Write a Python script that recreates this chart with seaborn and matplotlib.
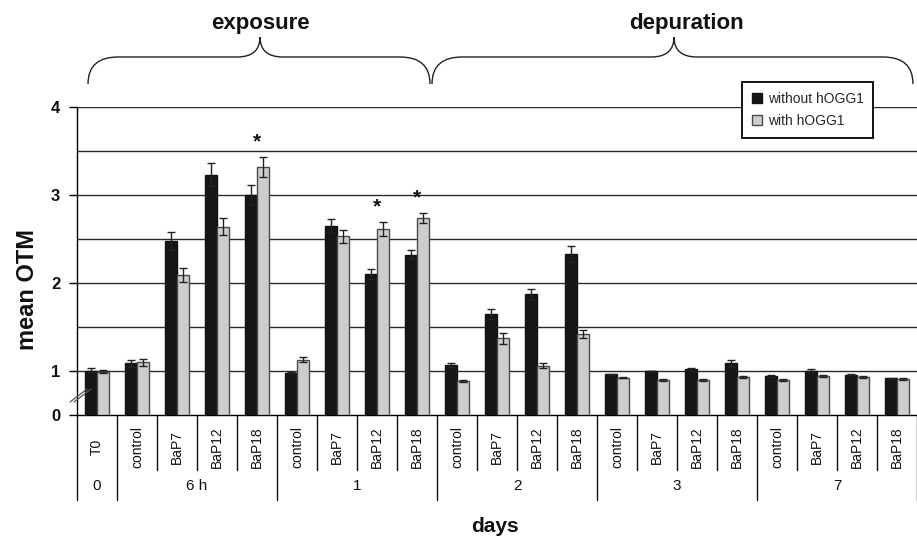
import numpy as np
import pandas as pd
import seaborn as sns
import matplotlib
matplotlib.use("Agg")
import matplotlib.pyplot as plt
from matplotlib.path import Path
from matplotlib.patches import PathPatch, Patch
from matplotlib.lines import Line2D
from matplotlib.transforms import Affine2D
from matplotlib.ticker import NullLocator

# ---------------- data ----------------
categories = ["T0",
              "control", "BaP7", "BaP12", "BaP18",
              "control", "BaP7", "BaP12", "BaP18",
              "control", "BaP7", "BaP12", "BaP18",
              "control", "BaP7", "BaP12", "BaP18",
              "control", "BaP7", "BaP12", "BaP18"]
times = ["0"] + ["6 h"] * 4 + ["1"] * 4 + ["2"] * 4 + ["3"] * 4 + ["7"] * 4
series_names = ["without hOGG1", "with hOGG1"]
without_vals = [1.00, 1.09, 2.48, 3.23, 3.00, 0.96, 2.65, 2.10, 2.32,
                1.07, 1.65, 1.87, 2.33, 0.93, 1.00, 1.02, 1.09,
                0.88, 1.00, 0.92, 0.83]
with_vals = [0.98, 1.10, 2.09, 2.64, 3.32, 1.13, 2.53, 2.61, 2.74,
             0.78, 1.37, 1.06, 1.42, 0.85, 0.80, 0.80, 0.87,
             0.80, 0.89, 0.86, 0.82]
without_err = [0.03, 0.04, 0.10, 0.13, 0.11, 0.01, 0.08, 0.06, 0.05,
               0.02, 0.06, 0.06, 0.09, 0.01, 0.00, 0.01, 0.03,
               0.02, 0.02, 0.01, 0.02]
with_err = [0.03, 0.04, 0.08, 0.10, 0.11, 0.03, 0.07, 0.08, 0.06,
            0.02, 0.06, 0.03, 0.05, 0.01, 0.02, 0.02, 0.02,
            0.02, 0.02, 0.02, 0.02]
star_groups = [4, 7, 8]
y_ticks = [0, 1, 2, 3, 4]
grid_levels = [1, 1.5, 2, 2.5, 3, 3.5, 4]
phases = ["exposure", "depuration"]

keys = [f"{t}|{c}|{i}" for i, (t, c) in enumerate(zip(times, categories))]
df = pd.DataFrame({
    "key": keys * 2,
    "series": [series_names[0]] * len(keys) + [series_names[1]] * len(keys),
    "value": without_vals + with_vals,
})

# ---------------- figure ----------------
W, H = 917, 537
sns.set_theme(style="white")
plt.rcParams["font.family"] = ["Liberation Sans", "DejaVu Sans"]
fig = plt.figure(figsize=(W / 100, H / 100), dpi=100)
ax = fig.add_axes([77 / W, 1 - 415 / H, 840 / W, 308 / H])

BLACK = "#161616"
GRAY = "#cdcdcd"
sns.barplot(data=df, x="key", y="value", hue="series", order=keys,
            hue_order=series_names, palette=[BLACK, GRAY], width=0.6,
            gap=0, errorbar=None, ax=ax, linewidth=1, saturation=1,
            zorder=3)
edge_cols = ["#111111", "#4a4a4a"]
for cont, ec in zip(ax.containers, edge_cols):
    for p in cont:
        p.set_edgecolor(ec)
        p.set_linewidth(1.0)
        p.set_zorder(3)

# error bars at bar centres
for cont, vals, errs in zip(ax.containers, [without_vals, with_vals],
                            [without_err, with_err]):
    xs = [p.get_x() + p.get_width() / 2 for p in cont]
    ax.errorbar(xs, vals, yerr=errs, fmt="none", ecolor="#222222",
                elinewidth=1, capsize=3, capthick=1, zorder=4)

# broken y axis: 0-1 compressed to half a unit
def fwd(v):
    v = np.asarray(v, dtype=float)
    return np.where(v < 1, 0.5 * v, v - 0.5)

def inv(t):
    t = np.asarray(t, dtype=float)
    return np.where(t < 0.5, 2 * t, t + 0.5)

ax.set_yscale("function", functions=(fwd, inv))
ax.set_ylim(0, 4)
ax.set_xlim(-0.5, len(keys) - 0.5)
ax.set_yticks(y_ticks)
ax.set_yticklabels([str(t) for t in y_ticks], fontsize=12, weight="bold")
ax.yaxis.set_minor_locator(NullLocator())
ax.tick_params(axis="y", length=6, width=1, color="black", pad=6,
               left=True, labelcolor="#111111")
ax.set_xticks(range(len(keys)))
ax.set_xticklabels([])
ax.tick_params(axis="x", length=0)
ax.set_xlabel("")
ax.set_ylabel("")
for lv in grid_levels:
    ax.axhline(lv, color="#2a2a2a", lw=1, zorder=1)
for s in ["top", "right"]:
    ax.spines[s].set_visible(False)
for s in ["left", "bottom"]:
    ax.spines[s].set_color("black")
    ax.spines[s].set_linewidth(1)

# stars
for g in star_groups:
    top = max(without_vals[g] + without_err[g], with_vals[g] + with_err[g])
    ax.annotate("*", (g, top), xytext=(0, 4), textcoords="offset points",
                ha="center", va="bottom", fontsize=15, weight="bold",
                color="#111111")

# category table under the axis
trans = ax.get_xaxis_transform()
yf = lambda py: (415 - py) / 308
group_starts = {0}
for i in range(1, len(times)):
    if times[i] != times[i - 1]:
        group_starts.add(i)
group_starts.add(len(times))
for i in range(len(keys) + 1):
    bottom = 500 if i in group_starts else 470
    ax.add_line(Line2D([i - 0.5, i - 0.5], [0, yf(bottom)], transform=trans,
                       clip_on=False, color="#111111", lw=1))
for i, c in enumerate(categories):
    ax.text(i, yf(447), c, rotation=90, ha="center", va="center",
            transform=trans, fontsize=10, color="#111111")
seen = []
for t in times:
    if t not in seen:
        seen.append(t)
for t in seen:
    idx = [i for i, tt in enumerate(times) if tt == t]
    ax.text(np.mean(idx), yf(486), t, ha="center", va="center",
            transform=trans, fontsize=11, color="#111111")

# axis titles
fig.text(27 / W, 1 - 290 / H, "mean OTM", rotation=90, ha="center",
         va="center", fontsize=17, weight="bold", color="#111111")
fig.text(495 / W, 1 - 527 / H, "days", ha="center", va="center",
         fontsize=15, weight="bold", color="#111111")

# braces
pix = Affine2D().scale(1 / W, -1 / H).translate(0, 1) + fig.transFigure

def brace(x0, x1, xm, ye=84, yflat=57, ypk=37, r_end=30, r_pk=23):
    verts = [(x0, ye), (x0, yflat), (x0 + r_end, yflat),
             (xm - r_pk, yflat), (xm, yflat), (xm, ypk),
             (xm, yflat), (xm + r_pk, yflat),
             (x1 - r_end, yflat), (x1, yflat), (x1, ye)]
    codes = [Path.MOVETO, Path.CURVE3, Path.CURVE3,
             Path.LINETO, Path.CURVE3, Path.CURVE3,
             Path.CURVE3, Path.CURVE3,
             Path.LINETO, Path.CURVE3, Path.CURVE3]
    fig.add_artist(PathPatch(Path(verts, codes), transform=pix,
                             facecolor="none", edgecolor="#222222", lw=1))

brace(88, 430, 260)
brace(432, 913, 674)
fig.text(260 / W, 1 - 23 / H, phases[0], ha="center", va="center",
         fontsize=16, weight="bold", color="#111111")
fig.text(686 / W, 1 - 23 / H, phases[1], ha="center", va="center",
         fontsize=16, weight="bold", color="#111111")

# axis-break marks
for dx in (0, 4):
    fig.add_artist(Line2D([70 + dx, 87 + dx], [402, 389], transform=pix,
                          color="#555555", lw=0.9))

# legend
old = ax.get_legend()
if old is not None:
    old.remove()
handles = [Patch(facecolor=BLACK, edgecolor="#111111", lw=1),
           Patch(facecolor=GRAY, edgecolor="#4a4a4a", lw=1)]
leg = ax.legend(handles, series_names, loc="upper left",
                bbox_to_anchor=(742 / W, 1 - 82 / H),
                bbox_transform=fig.transFigure, borderaxespad=0,
                frameon=True, fancybox=False, fontsize=10,
                handlelength=0.75, handleheight=0.75, handletextpad=0.4,
                borderpad=0.7, labelspacing=0.6, framealpha=1)
leg.get_frame().set_edgecolor("black")
leg.get_frame().set_linewidth(1.3)
leg.set_zorder(10)

fig.savefig("out.png", dpi=100, facecolor="white")
